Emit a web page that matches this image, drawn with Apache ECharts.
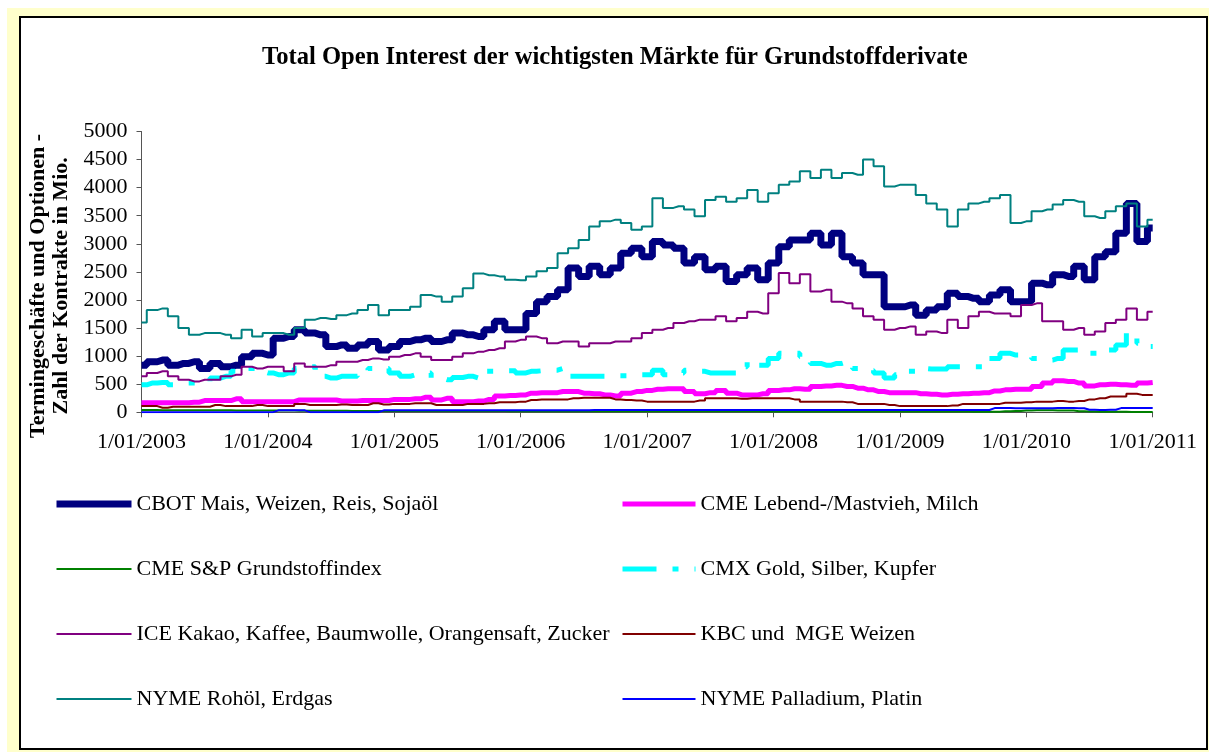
<!DOCTYPE html>
<html>
<head>
<meta charset="utf-8">
<script src="https://cdn.jsdelivr.net/npm/echarts@6/dist/echarts.min.js"></script>
<style>
  html, body { margin: 0; padding: 0; background: #fff; }
  #chart { width: 1209px; height: 752px; }
</style>
</head>
<body>
<div id="chart"></div>
<script>
// monthly readings, Jan 2003 .. Jan 2011 (97 points)
var months = [];
for (var i = 0; i <= 96; i++) months.push(2003 + i / 12);

var yearTicks = [2003, 2004, 2005, 2006, 2007, 2008, 2009, 2010, 2011];

var cbot = [840,900,930,840,870,900,780,870,810,840,
  990,1050,1020,1320,1350,1470,1410,1380,1170,1200,
  1140,1200,1260,1110,1170,1260,1290,1320,1260,1290,
  1410,1380,1350,1470,1620,1470,1470,1760,1970,2060,
  2180,2570,2420,2600,2450,2570,2830,2920,2770,3040,
  2980,2920,2660,2770,2540,2600,2330,2450,2570,2360,
  2660,2950,3070,3070,3190,2980,3190,2770,2660,2450,
  2450,1880,1880,1910,1730,1820,1880,2120,2060,2030,
  1970,2090,2180,1970,1970,2300,2270,2450,2420,2600,
  2360,2770,2860,3190,3720,3040,3280];

var cmeLive = [170,170,170,170,170,180,210,210,210,240,
  190,190,190,190,190,220,220,220,220,200,
  200,210,210,210,230,230,240,270,220,250,
  190,190,200,230,290,300,310,
  340,350,350,370,370,340,330,310,290,340,
  370,390,410,420,420,370,330,350,390,340,
  310,310,330,390,400,420,410,460,470,480,
  460,430,400,370,350,350,
  350,330,320,310,320,330,340,350,380,400,
  410,410,460,520,560,550,520,470,490,500,
  490,480,520,530];

var cmeSp = [40,40,38,38,36,36,35,35,35,34,34,33,33,
  30,30,28,28,28,26,26,25,25,25,25,25,24,24,24,24,22,22,22,22,22,22,20,20,
  20,20,20,20,20,20,18,18,18,18,18,18,20,20,20,20,18,18,18,18,18,18,
  16,16,16,16,16,16,15,15,15,15,15,15,15,15,
  15,15,14,14,14,14,12,12,12,20,25,30,35,35,30,30,20,15,10,8,8,6,5,5];

var cmx = [490,520,530,490,520,520,540,610,640,730,
  780,730,700,670,700,780,810,640,610,640,
  640,730,780,780,700,640,670,700,610,580,
  620,640,610,730,740,740,700,730,740,750,
  780,640,640,640,640,650,650,670,670,750,
  670,700,750,730,700,700,700,810,900,840,
  960,1050,1050,990,870,840,870,900,780,750,
  700,610,670,730,780,770,770,810,810,810,
  810,960,1050,1020,1020,960,930,960,1110,1110,
  1050,1050,1110,1200,1410,1230,1170];

var ice = [640,700,730,640,580,550,580,580,640,670,
  810,780,810,810,730,870,810,810,840,900,
  900,930,960,940,990,1020,1050,990,930,930,
  990,1050,1080,1110,1140,1260,1290,1350,1320,1230,
  1260,1260,1170,1230,1230,1260,1260,1320,1410,1470,
  1500,1590,1620,1650,1650,1710,1620,1680,1790,1760,
  2120,2480,2300,2460,2150,2180,1970,1940,1850,1710,
  1650,1470,1500,1530,1380,1440,1410,1650,1500,1710,
  1790,1760,1760,1710,1910,1940,1620,1620,1470,1500,
  1380,1440,1590,1650,1850,1650,1790];

var kbc = [110,110,80,100,100,100,100,130,110,110,
  110,130,110,110,110,150,130,130,130,140,
  130,130,160,140,150,150,160,160,130,130,
  130,150,150,160,180,180,190,
  220,230,230,230,250,260,260,260,230,220,
  210,190,190,190,190,190,210,250,250,250,
  240,250,250,250,250,230,190,190,190,190,
  180,150,150,150,130,110,
  110,110,110,110,120,150,150,150,150,170,
  170,180,190,190,200,190,200,230,250,280,
  280,330,310,310];

var nymeOil = [1600,1820,1850,1710,1500,1380,1410,1410,1380,1320,
  1470,1350,1410,1410,1380,1500,1650,1680,1660,1730,
  1760,1820,1910,1730,1820,1820,1880,2090,2060,1970,
  2060,2210,2470,2440,2420,2360,2350,2420,2510,2570,
  2830,2920,3070,3310,3400,3430,3370,3250,3310,3810,
  3640,3670,3610,3490,3780,3840,3750,3810,3960,3750,
  3900,4050,4110,4290,4170,4320,4170,4260,4230,4500,
  4380,4020,4050,4050,3870,3720,3610,3310,3610,3720,
  3750,3810,3870,3370,3400,3580,3610,3700,3780,3750,
  3490,3460,3580,3670,3720,3310,3430];

var nymePd = [3,3,3,3,3,3,3,3,3,3,3,3,3,
  35,35,35,3,3,3,3,3,3,3,
  35,35,35,35,35,35,35,35,35,35,
  38,38,38,38,38,38,38,38,38,38,
  40,40,40,40,40,40,40,40,40,40,
  40,40,40,40,40,40,40,40,40,40,
  42,42,42,42,42,42,42,42,42,42,
  42,42,42,42,42,42,42,42,
  75,75,72,72,70,70,75,75,72,
  45,42,45,
  75,78,78,75];

var names = [
  'CBOT Mais, Weizen, Reis, Sojaöl',
  'CME Lebend-/Mastvieh, Milch',
  'CME S&P Grundstoffindex',
  'CMX Gold, Silber, Kupfer',
  'ICE Kakao, Kaffee, Baumwolle, Orangensaft, Zucker',
  'KBC und  MGE Weizen',
  'NYME Rohöl, Erdgas',
  'NYME Palladium, Platin'
];
var values = [cbot, cmeLive, cmeSp, cmx, ice, kbc, nymeOil, nymePd];
var colors = ['#000080', '#FF00FF', '#008000', '#00FFFF', '#800080', '#800000', '#008080', '#0000FF'];
var widths = [7, 5, 2, 5, 2, 2, 2, 2];

var font = 'Liberation Serif';

var series = [];
for (var s = 0; s < names.length; s++) {
  var pts = [];
  for (var j = 0; j < months.length; j++) pts.push([months[j], values[s][j]]);
  series.push({
    name: names[s],
    type: 'line',
    step: 'middle',
    symbol: 'none',
    data: pts,
    color: colors[s],
    lineStyle: {
      color: colors[s],
      width: widths[s],
      type: s === 3 ? [34, 16, 6, 16] : 'solid',
      cap: 'butt'
    }
  });
}

var legendBase = {
  orient: 'vertical',
  top: 493,
  padding: 0,
  itemWidth: 75,
  itemHeight: 20,
  itemGap: 43,
  itemStyle: { opacity: 0 },
  lineStyle: { width: 'inherit', type: 'inherit' },
  textStyle: { fontFamily: font, fontSize: 22, color: '#000', lineHeight: 21 },
  selectedMode: false
};

var chart = echarts.init(document.getElementById('chart'));
chart.setOption({
  animation: false,
  backgroundColor: '#fff',
  graphic: [
    { type: 'rect', z: -20, silent: true, shape: { x: 7, y: 8, width: 1202, height: 744 }, style: { fill: '#FFFFCC' } },
    { type: 'rect', z: -10, silent: true, shape: { x: 20, y: 17, width: 1187, height: 732 }, style: { fill: '#fff', stroke: '#000', lineWidth: 2 } }
  ],
  title: {
    text: 'Total Open Interest der wichtigsten Märkte für Grundstoffderivate',
    left: 262,
    top: 45,
    padding: 0,
    textStyle: { fontFamily: font, fontSize: 24.6, fontWeight: 'bold', color: '#000' }
  },
  legend: [
    Object.assign({}, legendBase, { left: 53, data: [names[0], names[2], names[4], names[6]] }),
    Object.assign({}, legendBase, { left: 620, itemWidth: 73, data: [names[1], names[3], names[5], names[7]] })
  ],
  grid: { left: 141.5, right: 56.3, top: 131.5, bottom: 339.7 },
  xAxis: {
    type: 'value',
    min: 2003,
    max: 2011,
    interval: 1,
    splitLine: { show: false },
    axisLine: { lineStyle: { color: '#555', width: 1 } },
    axisTick: { lineStyle: { color: '#555' }, length: 5 },
    axisLabel: {
      margin: 19,
      fontFamily: font,
      fontSize: 22,
      color: '#000',
      formatter: function (v) { return yearTicks.indexOf(v) >= 0 ? '1/01/' + v : ''; }
    }
  },
  yAxis: {
    type: 'value',
    min: 0,
    max: 5000,
    interval: 500,
    splitLine: { show: false },
    axisLine: { show: true, lineStyle: { color: '#555', width: 1 } },
    axisTick: { show: true, lineStyle: { color: '#555' }, length: 5 },
    axisLabel: {
      margin: 14, fontFamily: font, fontSize: 22, color: '#000',
      formatter: function (v) { return String(v); }
    },
    name: 'Termingeschäfte und Optionen -\nZahl der Kontrakte in Mio.',
    nameLocation: 'middle',
    nameRotate: 90,
    nameGap: 60,
    nameTextStyle: {
      fontFamily: font, fontSize: 22, fontWeight: 'bold', color: '#000',
      lineHeight: 23, padding: [0, 28, 0, 0]
    }
  },
  series: series
});
</script>
</body>
</html>
